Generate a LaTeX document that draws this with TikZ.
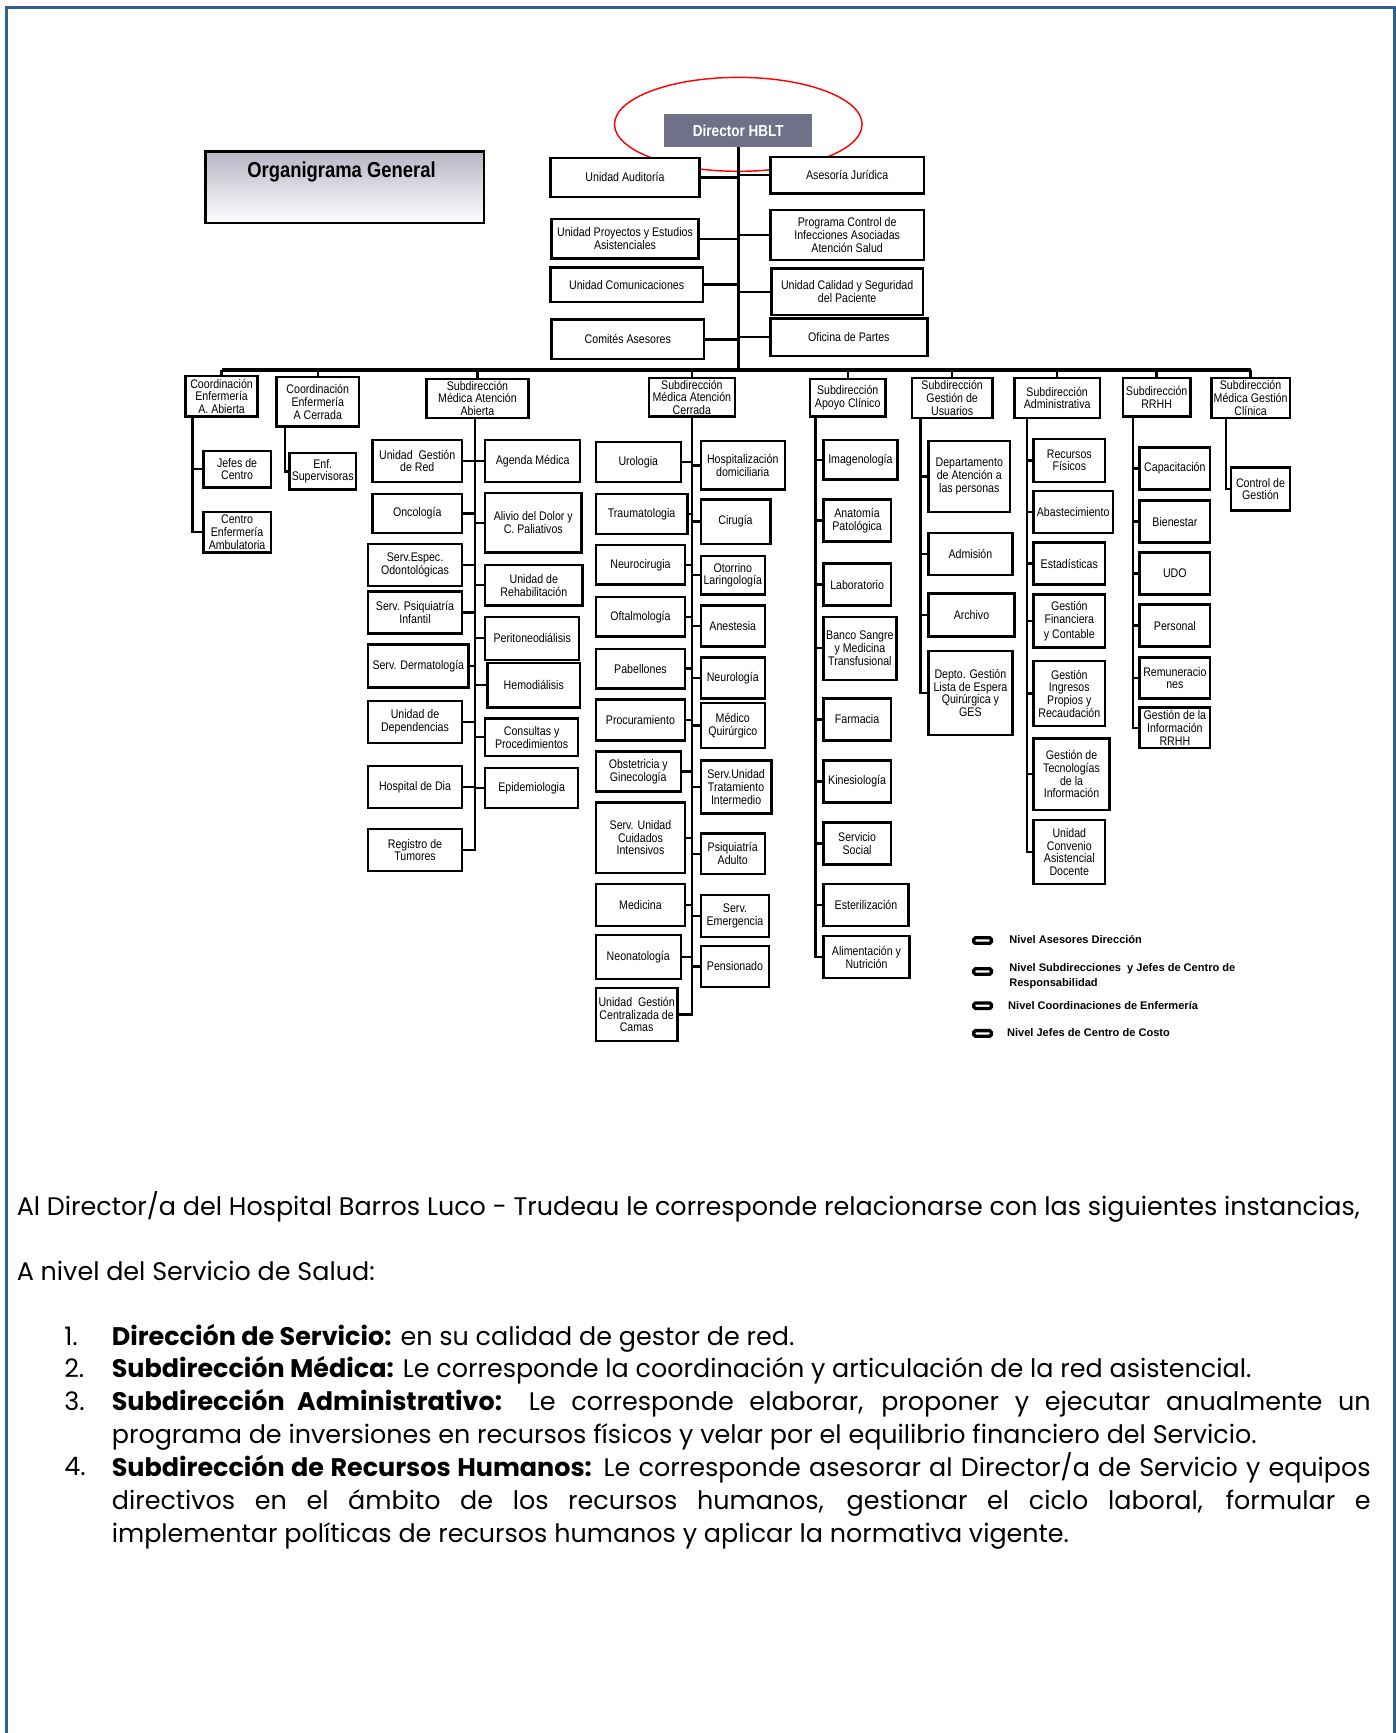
\documentclass[tikz,border=0pt]{standalone}
\usepackage{fontspec}
\newfontfamily\organfont{Liberation Sans}[FakeStretch=0.85]
\newfontfamily\leyendafont{Liberation Sans}
\newfontfamily\textofont{Poppins}
\usepackage{tikz}
\tikzset{>=latex}
\usetikzlibrary{calc,positioning}
\definecolor{marcoAzul}{RGB}{52,94,145}
\definecolor{directorGris}{RGB}{112,112,136}
\definecolor{tituloGris}{RGB}{182,182,198}
\tikzset{
  caja/.style={draw=black, line width=2.2pt, fill=white, align=center, inner sep=0.5pt, font=\organfont\fontsize{11.3}{11.5}\selectfont},
  enlace/.style={line width=2.2pt},
  bus/.style={line width=3.2pt},
  leyenda/.style={draw=black, line width=3pt, rounded corners=1.5pt, minimum width=16pt, minimum height=5pt, inner sep=0pt},
  textoleyenda/.style={anchor=west, align=left, inner sep=0pt, font=\leyendafont\bfseries\fontsize{10}{14}\selectfont},
  parrafo/.style={inner sep=0pt, font=\textofont\fontsize{23}{29.6}\selectfont},
}

\begin{document}
\begin{tikzpicture}[x=1pt,y=-1pt]
\useasboundingbox (0,0) rectangle (1263,1568);
\draw[marcoAzul, line width=2.5pt] (6,1568) -- (6,7) -- (1261.7,7) -- (1261.7,1568);

% titulo y director
\node[draw, line width=2.2pt, top color=tituloGris, bottom color=white, minimum width=252, minimum height=65] (tituloCaja) at (312,169.5) {};
\node[font=\organfont\bfseries\fontsize{19.6}{20}\selectfont] (titulo) at (309,156) {Organigrama General};
\node[fill=directorGris, minimum width=134, minimum height=30, text=white, font=\organfont\bfseries\fontsize{14.4}{15}\selectfont] (director) at (668,118) {Director HBLT};
\draw[red, line width=1.3pt] (668,112.5) ellipse [x radius=112pt, y radius=42.5pt];

% asesores
\node[caja, minimum width=135, minimum height=35] (auditoria) at (565.5,160.5) {Unidad Auditoría};
\node[caja, minimum width=139, minimum height=33] (juridica) at (766.5,158.5) {Asesoría Jurídica};
\node[caja, minimum width=133, minimum height=36] (proyectos) at (565.5,216) {Unidad Proyectos y Estudios\\Asistenciales};
\node[caja, minimum width=139, minimum height=45] (infecciones) at (766.5,212.5) {Programa Control de\\Infecciones Asociadas\\Atención Salud};
\node[caja, minimum width=138, minimum height=31] (comunicaciones) at (567,257.5) {Unidad Comunicaciones};
\node[caja, minimum width=137, minimum height=42] (calidad) at (766.5,264) {Unidad Calidad y Seguridad\\del Paciente};
\node[caja, minimum width=138, minimum height=36] (comites) at (568,307) {Comités Asesores};
\node[caja, minimum width=142, minimum height=34] (partes) at (768,305) {Oficina de Partes};

\coordinate (busCen) at (668,335);
\draw[enlace] (director.south) -- (busCen);
\draw[enlace] (auditoria.east) -- (auditoria.east -| busCen) (proyectos.east) -- (proyectos.east -| busCen)
  (comunicaciones.east) -- (comunicaciones.east -| busCen) (comites.east) -- (comites.east -| busCen)
  (juridica.west) -- (juridica.west -| busCen) (infecciones.west) -- (infecciones.west -| busCen)
  (calidad.west) -- (calidad.west -| busCen) (partes.west) -- (partes.west -| busCen);

% subdirecciones y coordinaciones
\node[caja, minimum width=65, minimum height=37] (coordAbierta) at (200.5,358.5) {Coordinación\\Enfermería\\A. Abierta};
\node[caja, minimum width=75, minimum height=45] (coordCerrada) at (287.5,363.5) {Coordinación\\Enfermería\\A Cerrada};
\node[caja, minimum width=92, minimum height=35] (smaa) at (432,360.5) {Subdirección\\Médica Atención\\Abierta};
\node[caja, minimum width=78, minimum height=35] (smac) at (626,359.5) {Subdirección\\Médica Atención\\Cerrada};
\node[caja, minimum width=68, minimum height=34] (apoyo) at (767,360) {Subdirección\\Apoyo Clínico};
\node[caja, minimum width=73, minimum height=36] (usuarios) at (861.5,360) {Subdirección\\Gestión de\\Usuarios};
\node[caja, minimum width=77, minimum height=36] (administrativa) at (956.5,360) {Subdirección\\Administrativa};
\node[caja, minimum width=61, minimum height=35] (rrhh) at (1046.5,359.5) {Subdirección\\RRHH};
\node[caja, minimum width=71, minimum height=36] (clinica) at (1131.5,360) {Subdirección\\Médica Gestión\\Clínica};

\draw[bus] (coordAbierta.north |- busCen) -- (clinica.north |- busCen);
\draw[enlace] (coordAbierta.north) -- (coordAbierta.north |- busCen) (coordCerrada.north) -- (coordCerrada.north |- busCen)
  (smaa.north) -- (smaa.north |- busCen) (smac.north) -- (smac.north |- busCen)
  (apoyo.north) -- (apoyo.north |- busCen) (usuarios.north) -- (usuarios.north |- busCen)
  (administrativa.north) -- (administrativa.north |- busCen) (rrhh.north) -- (rrhh.north |- busCen)
  (clinica.north) -- (clinica.north |- busCen);

% coordinaciones de enfermeria
\node[caja, minimum width=61, minimum height=33] (jefes) at (214.5,424.5) {Jefes de\\Centro};
\node[caja, minimum width=61, minimum height=37] (centroEnf) at (214.5,481.5) {Centro\\Enfermería\\Ambulatoria};
\node[caja, minimum width=60, minimum height=33] (supervisoras) at (292,426.5) {Enf.\\Supervisoras};
\coordinate (ejeCA) at (174,377);
\coordinate (ejeCC) at (258,386);
\draw[enlace] (ejeCA) |- (centroEnf.west) (jefes.west) -- (jefes.west -| ejeCA);
\draw[enlace] (ejeCC) |- (supervisoras.west);

% atencion abierta
\node[caja, minimum width=81, minimum height=38] (gestionRed) at (377.5,417) {Unidad\ \ Gestión\\de Red};
\node[caja, minimum width=81, minimum height=35] (oncologia) at (377.5,464.5) {Oncología};
\node[caja, minimum width=85, minimum height=38] (odontologicas) at (375.5,511) {Serv.Espec.\\Odontológicas};
\node[caja, minimum width=85, minimum height=38] (psiqInfantil) at (375.5,554) {Serv. Psiquiatría\\Infantil};
\node[caja, minimum width=91, minimum height=39] (dermatologia) at (378.5,602.5) {Serv. Dermatología};
\node[caja, minimum width=85, minimum height=38] (dependencias) at (375.5,653) {Unidad de\\Dependencias};
\node[caja, minimum width=85, minimum height=38] (hospitalDia) at (375.5,712) {Hospital de Dia};
\node[caja, minimum width=85, minimum height=38] (tumores) at (375.5,769) {Registro de\\Tumores};
\node[caja, minimum width=86, minimum height=38] (agenda) at (482,417) {Agenda Médica};
\node[caja, minimum width=87, minimum height=54] (alivio) at (482.5,473) {Alivio del Dolor y\\C. Paliativos};
\node[caja, minimum width=88, minimum height=37] (rehabilitacion) at (483,529.5) {Unidad de\\Rehabilitación};
\node[caja, minimum width=85, minimum height=39] (peritoneo) at (481.5,577.5) {Peritoneodiálisis};
\node[caja, minimum width=84, minimum height=40] (hemodialisis) at (483,620) {Hemodiálisis};
\node[caja, minimum width=84, minimum height=34] (consultas) at (481,667) {Consultas y\\Procedimientos};
\node[caja, minimum width=84, minimum height=36] (epidemiologia) at (481,713) {Epidemiologia};
\coordinate (ejeAA) at (430,378);
\draw[enlace] (ejeAA) |- (tumores.east)
  (gestionRed.east) -- (gestionRed.east -| ejeAA) (oncologia.east) -- (oncologia.east -| ejeAA)
  (odontologicas.east) -- (odontologicas.east -| ejeAA) (psiqInfantil.east) -- (psiqInfantil.east -| ejeAA)
  (dermatologia.east) -- (dermatologia.east -| ejeAA) (dependencias.east) -- (dependencias.east -| ejeAA)
  (hospitalDia.east) -- (hospitalDia.east -| ejeAA)
  (agenda.west) -- (agenda.west -| ejeAA) (alivio.west) -- (alivio.west -| ejeAA)
  (rehabilitacion.west) -- (rehabilitacion.west -| ejeAA) (peritoneo.west) -- (peritoneo.west -| ejeAA)
  (hemodialisis.west) -- (hemodialisis.west -| ejeAA) (consultas.west) -- (consultas.west -| ejeAA)
  (epidemiologia.west) -- (epidemiologia.west -| ejeAA);

% atencion cerrada
\node[caja, minimum width=77, minimum height=36] (urologia) at (577.5,418) {Urologia};
\node[caja, minimum width=83, minimum height=36] (traumatologia) at (580.5,465) {Traumatologia};
\node[caja, minimum width=81, minimum height=36] (neurocirugia) at (579.5,511) {Neurocirugia};
\node[caja, minimum width=81, minimum height=36] (oftalmologia) at (579.5,558) {Oftalmología};
\node[caja, minimum width=81, minimum height=36] (pabellones) at (579.5,605) {Pabellones};
\node[caja, minimum width=81, minimum height=37] (procuramiento) at (579.5,651.5) {Procuramiento};
\node[caja, minimum width=77, minimum height=36] (obstetricia) at (577.5,698) {Obstetricia y\\Ginecología};
\node[caja, minimum width=81, minimum height=64] (intensivos) at (579.5,758) {Serv. Unidad\\Cuidados\\Intensivos};
\node[caja, minimum width=81, minimum height=38] (medicina) at (579.5,819) {Medicina};
\node[caja, minimum width=77, minimum height=40] (neonatologia) at (577.5,866) {Neonatología};
\node[caja, minimum width=74, minimum height=48] (camas) at (576,918) {Unidad\ \ Gestión\\Centralizada de\\Camas};
\node[caja, minimum width=76, minimum height=44] (hospDomiciliaria) at (672,421) {Hospitalización\\domiciliaria};
\node[caja, minimum width=63, minimum height=40] (cirugia) at (665.5,472) {Cirugía};
\node[caja, minimum width=58, minimum height=35] (otorrino) at (663,520.5) {Otorrino\\Laringología};
\node[caja, minimum width=58, minimum height=37] (anestesia) at (663,566.5) {Anestesia};
\node[caja, minimum width=58, minimum height=37] (neurologia) at (663,613.5) {Neurología};
\node[caja, minimum width=58, minimum height=41] (quirurgico) at (663,656.5) {Médico\\Quirúrgico};
\node[caja, minimum width=64, minimum height=48] (intermedio) at (666,712) {Serv.Unidad\\Tratamiento\\Intermedio};
\node[caja, minimum width=58, minimum height=37] (psiqAdulto) at (663,772.5) {Psiquiatría\\Adulto};
\node[caja, minimum width=62, minimum height=38] (emergencia) at (665,829) {Serv.\\Emergencia};
\node[caja, minimum width=62, minimum height=37] (pensionado) at (665,874.5) {Pensionado};
\coordinate (ejeAC) at (626,377);
\draw[enlace] (ejeAC) |- (camas.east)
  (urologia.east) -- (urologia.east -| ejeAC) (traumatologia.east) -- (traumatologia.east -| ejeAC)
  (neurocirugia.east) -- (neurocirugia.east -| ejeAC) (oftalmologia.east) -- (oftalmologia.east -| ejeAC)
  (pabellones.east) -- (pabellones.east -| ejeAC) (procuramiento.east) -- (procuramiento.east -| ejeAC)
  (obstetricia.east) -- (obstetricia.east -| ejeAC) (intensivos.east) -- (intensivos.east -| ejeAC)
  (medicina.east) -- (medicina.east -| ejeAC) (neonatologia.east) -- (neonatologia.east -| ejeAC)
  (hospDomiciliaria.west) -- (hospDomiciliaria.west -| ejeAC) (cirugia.west) -- (cirugia.west -| ejeAC)
  (otorrino.west) -- (otorrino.west -| ejeAC) (anestesia.west) -- (anestesia.west -| ejeAC)
  (neurologia.west) -- (neurologia.west -| ejeAC) (quirurgico.west) -- (quirurgico.west -| ejeAC)
  (intermedio.west) -- (intermedio.west -| ejeAC) (psiqAdulto.west) -- (psiqAdulto.west -| ejeAC)
  (emergencia.west) -- (emergencia.west -| ejeAC) (pensionado.west) -- (pensionado.west -| ejeAC);

% apoyo clinico
\node[caja, minimum width=67, minimum height=36] (imagenologia) at (778.5,416) {Imagenología};
\node[caja, minimum width=61, minimum height=38] (anatomia) at (775.5,471) {Anatomía\\Patológica};
\node[caja, minimum width=61, minimum height=38] (laboratorio) at (775.5,529) {Laboratorio};
\node[caja, minimum width=66, minimum height=57] (banco) at (778,586.5) {Banco Sangre\\y Medicina\\Transfusional};
\node[caja, minimum width=61, minimum height=38] (farmacia) at (775.5,651) {Farmacia};
\node[caja, minimum width=61, minimum height=38] (kinesiologia) at (775.5,707) {Kinesiología};
\node[caja, minimum width=61, minimum height=38] (servicioSocial) at (775.5,763) {Servicio\\Social};
\node[caja, minimum width=77, minimum height=38] (esterilizacion) at (783.5,819) {Esterilización};
\node[caja, minimum width=78, minimum height=38] (alimentacion) at (784,866) {Alimentación y\\Nutrición};
\coordinate (ejeApoyo) at (738,377);
\draw[enlace] (ejeApoyo) |- (alimentacion.west)
  (imagenologia.west) -- (imagenologia.west -| ejeApoyo) (anatomia.west) -- (anatomia.west -| ejeApoyo)
  (laboratorio.west) -- (laboratorio.west -| ejeApoyo) (banco.west) -- (banco.west -| ejeApoyo)
  (farmacia.west) -- (farmacia.west -| ejeApoyo) (kinesiologia.west) -- (kinesiologia.west -| ejeApoyo)
  (servicioSocial.west) -- (servicioSocial.west -| ejeApoyo) (esterilizacion.west) -- (esterilizacion.west -| ejeApoyo);

% gestion de usuarios
\node[caja, minimum width=74, minimum height=64] (atencion) at (877,431) {Departamento\\de Atención a\\las personas};
\node[caja, minimum width=76, minimum height=38] (admision) at (878,501) {Admisión};
\node[caja, minimum width=78, minimum height=39] (archivo) at (879,556.5) {Archivo};
\node[caja, minimum width=76, minimum height=76] (listaEspera) at (878,627) {Depto. Gestión\\Lista de Espera\\Quirúrgica y\\GES};
\coordinate (ejeUsuarios) at (833,378);
\draw[enlace] (ejeUsuarios) |- (listaEspera.west)
  (atencion.west) -- (atencion.west -| ejeUsuarios) (admision.west) -- (admision.west -| ejeUsuarios)
  (archivo.west) -- (archivo.west -| ejeUsuarios);

% administrativa
\node[caja, minimum width=65, minimum height=39] (recursosFisicos) at (967.5,416.5) {Recursos\\Físicos};
\node[caja, minimum width=72, minimum height=38] (abastecimiento) at (971,463) {Abastecimiento};
\node[caja, minimum width=65, minimum height=38] (estadisticas) at (967.5,510) {Estadísticas};
\node[caja, minimum width=65, minimum height=48] (financiera) at (967.5,562) {Gestión\\Financiera\\[2pt]y Contable};
\node[caja, minimum width=65, minimum height=59] (ingresos) at (967.5,627.5) {Gestión\\Ingresos\\Propios y\\Recaudación};
\node[caja, minimum width=69, minimum height=65] (tecnologias) at (969.5,700.5) {Gestión de\\Tecnologías\\de la\\Información};
\node[caja, minimum width=65, minimum height=58] (convenio) at (967.5,771) {Unidad\\Convenio\\Asistencial\\Docente};
\coordinate (ejeAdmin) at (929,378);
\draw[enlace] (ejeAdmin) |- (convenio.west)
  (recursosFisicos.west) -- (recursosFisicos.west -| ejeAdmin) (abastecimiento.west) -- (abastecimiento.west -| ejeAdmin)
  (estadisticas.west) -- (estadisticas.west -| ejeAdmin) (financiera.west) -- (financiera.west -| ejeAdmin)
  (ingresos.west) -- (ingresos.west -| ejeAdmin) (tecnologias.west) -- (tecnologias.west -| ejeAdmin);

% rrhh
\node[caja, minimum width=64, minimum height=38] (capacitacion) at (1063,424) {Capacitación};
\node[caja, minimum width=64, minimum height=38] (bienestar) at (1063,472) {Bienestar};
\node[caja, minimum width=64, minimum height=38] (udo) at (1063,519) {UDO};
\node[caja, minimum width=64, minimum height=38] (personal) at (1063,566) {Personal};
\node[caja, minimum width=64, minimum height=37] (remuneraciones) at (1063,613.5) {Remuneracio\\nes};
\node[caja, minimum width=64, minimum height=37] (infoRRHH) at (1063,658.5) {Gestión de la\\Información\\RRHH};
\coordinate (ejeRRHH) at (1025,377);
\draw[enlace] (ejeRRHH) |- (infoRRHH.west)
  (capacitacion.west) -- (capacitacion.west -| ejeRRHH) (bienestar.west) -- (bienestar.west -| ejeRRHH)
  (udo.west) -- (udo.west -| ejeRRHH) (personal.west) -- (personal.west -| ejeRRHH)
  (remuneraciones.west) -- (remuneraciones.west -| ejeRRHH);

% gestion clinica
\node[caja, minimum width=53, minimum height=39] (controlGestion) at (1140.5,442.5) {Control de\\Gestión};
\coordinate (ejeClinica) at (1109,378);
\draw[enlace] (ejeClinica) |- (controlGestion.west);

% leyenda
\node[leyenda] (ley1) at (889,851) {};
\node[leyenda] (ley2) at (889,879) {};
\node[leyenda] (ley3) at (889,910) {};
\node[leyenda] (ley4) at (889,935) {};
\node[textoleyenda] (leyTexto1) at (913,850) {Nivel Asesores Dirección};
\node[textoleyenda] (leyTexto2) at (913,883) {Nivel Subdirecciones\ \ y Jefes de Centro de\\Responsabilidad};
\node[textoleyenda] (leyTexto3) at (912,910) {Nivel Coordinaciones de Enfermería};
\node[textoleyenda] (leyTexto4) at (911,934) {Nivel Jefes de Centro de Costo};

% texto
\node[parrafo, anchor=base west] (intro) at (15,1100) {Al Director/a del Hospital Barros Luco - Trudeau le corresponde relacionarse con las siguientes instancias,};
\node[parrafo, anchor=base west] (nivel) at (15,1159) {A nivel del Servicio de Salud:};
\node[parrafo, anchor=base west] (num1) at (58,1217) {1.};
\node[parrafo, anchor=base west] (num2) at (58,1246) {2.};
\node[parrafo, anchor=base west] (num3) at (58,1276) {3.};
\node[parrafo, anchor=base west] (num4) at (58,1335) {4.};
\node[parrafo, anchor=base west] (item1) at (101,1217) {\textbf{Dirección de Servicio:} en su calidad de gestor de red.};
\node[parrafo, anchor=base west] (item2) at (101,1246) {\textbf{Subdirección Médica:} Le corresponde la coordinación y articulación de la red asistencial.};
\node[parrafo, anchor=north west, text width=1139, align=justify] (item3) at (101,1255.3) {\strut\textbf{Subdirección Administrativo:} Le corresponde elaborar, proponer y ejecutar anualmente un\linebreak programa de inversiones en recursos físicos y velar por el equilibrio financiero del Servicio.};
\node[parrafo, anchor=north west, text width=1139, align=justify] (item4) at (101,1314.3) {\strut\textbf{Subdirección de Recursos Humanos:} Le corresponde asesorar al Director/a de Servicio y equipos\linebreak directivos en el ámbito de los recursos humanos, gestionar el ciclo laboral, formular e\linebreak implementar políticas de recursos humanos y aplicar la normativa vigente.};
\end{tikzpicture}
\end{document}
